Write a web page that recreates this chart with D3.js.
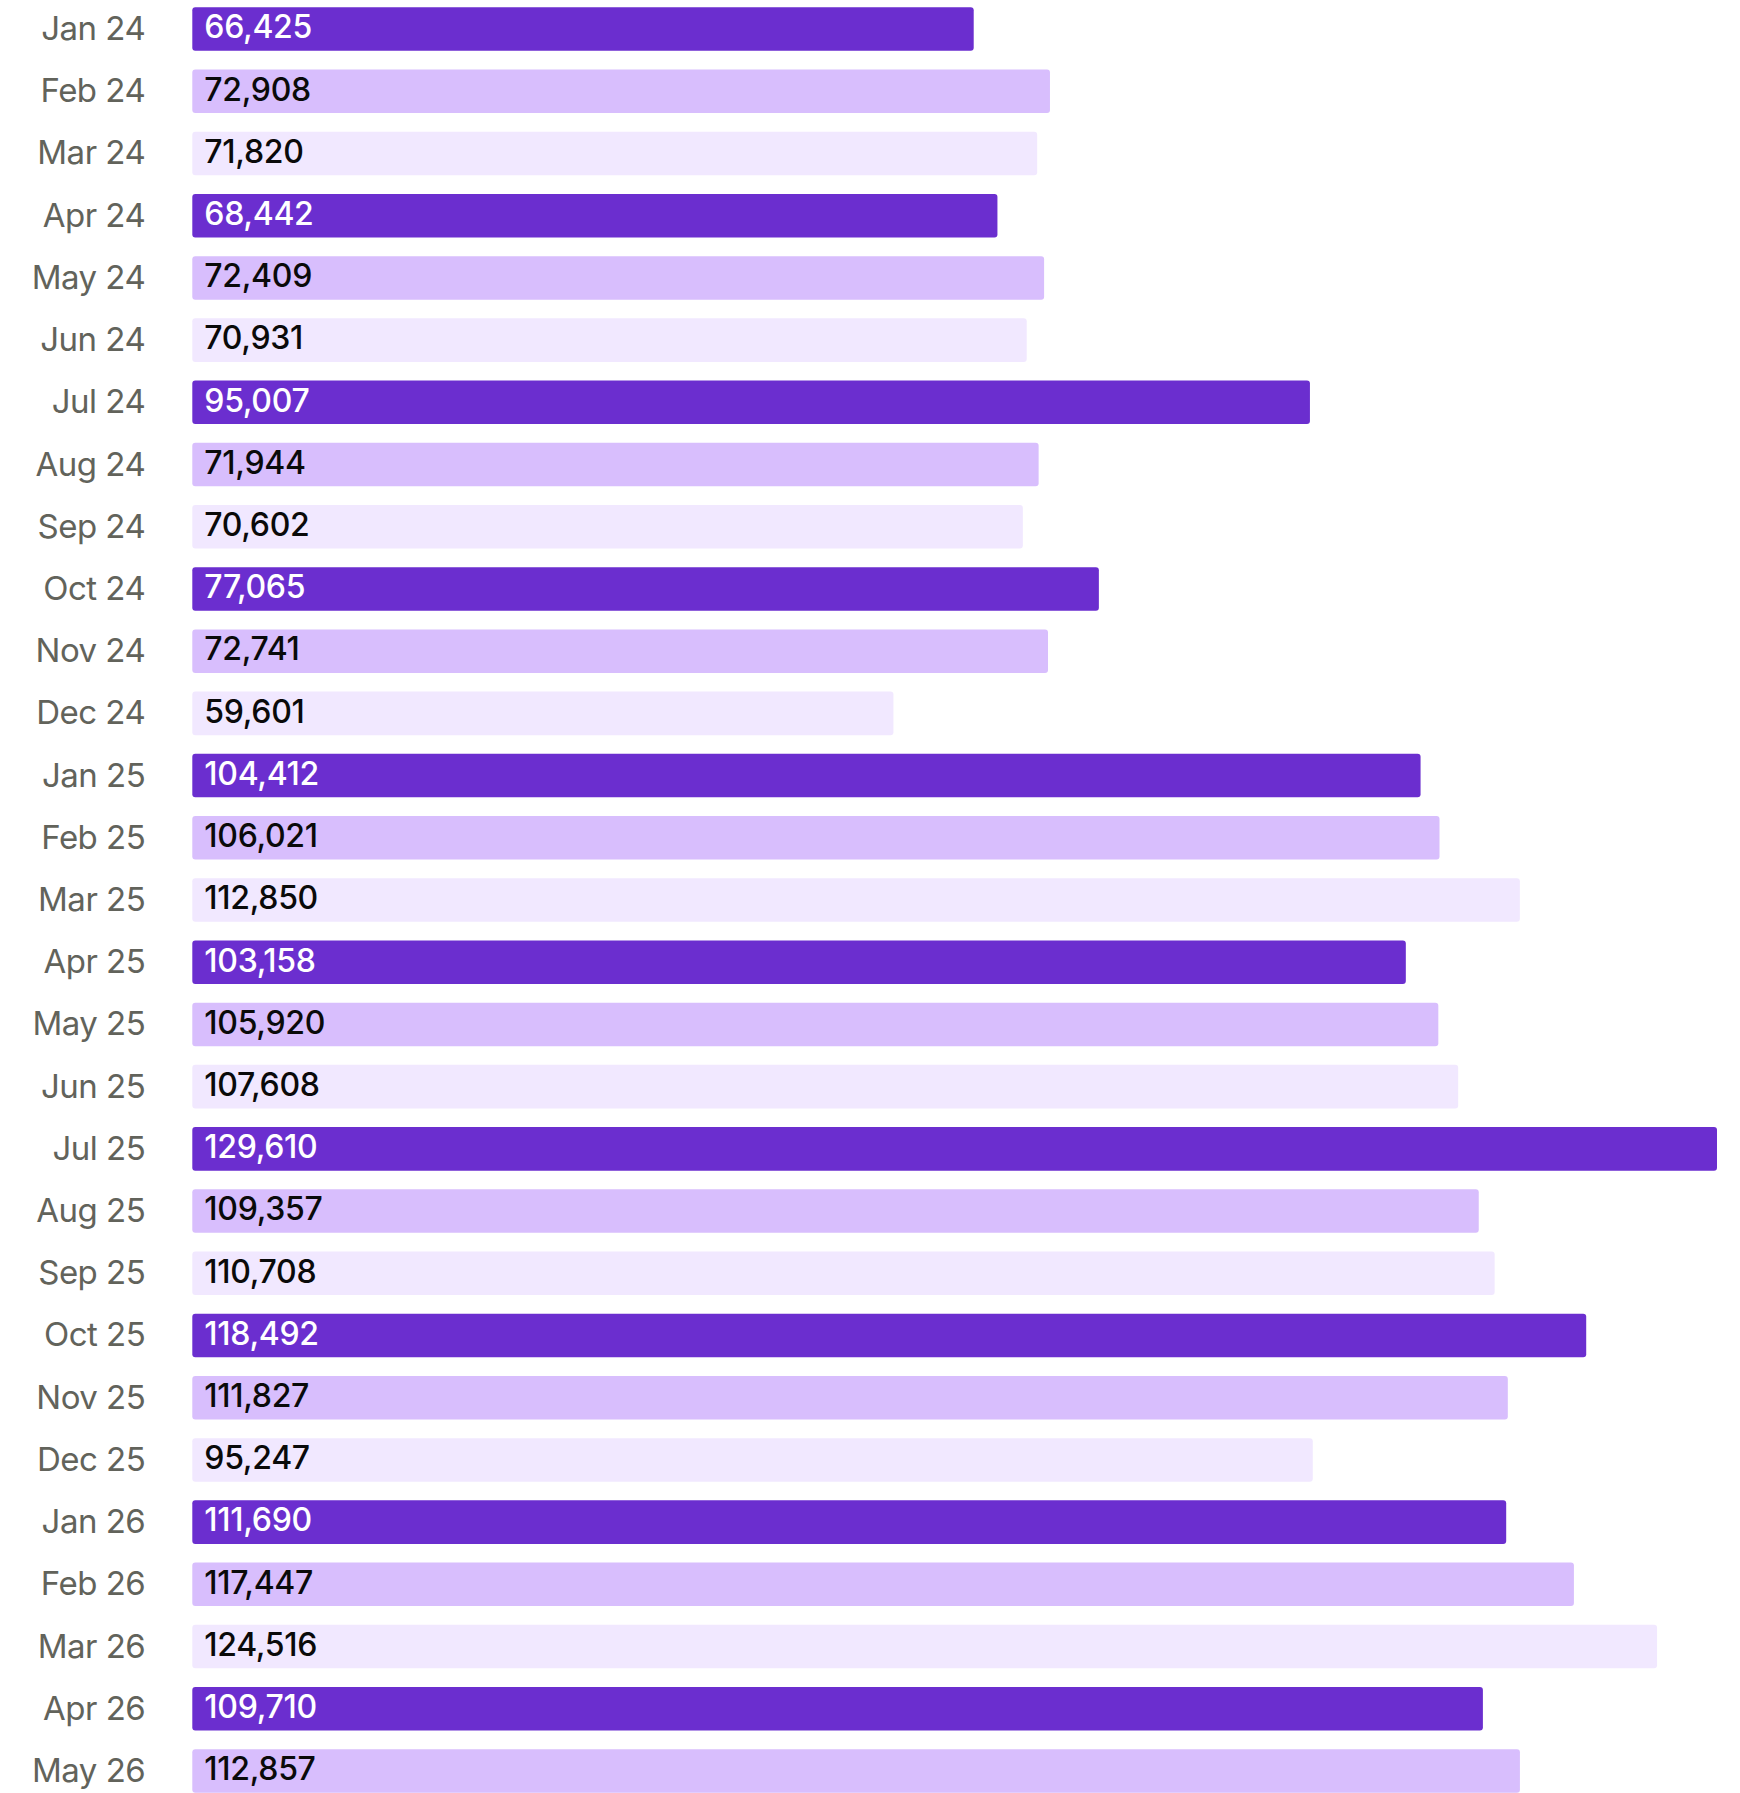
<!DOCTYPE html>
<html><head><meta charset="utf-8">
<script src="https://cdn.jsdelivr.net/npm/d3@7"></script>
<style>
html,body{margin:0;padding:0;background:#fff;overflow:hidden;}
svg{display:block;}
</style></head>
<body>
<svg id="chart" width="1740" height="1793"></svg>
<script>
const categories = ["Jan 24","Feb 24","Mar 24","Apr 24","May 24","Jun 24","Jul 24","Aug 24","Sep 24","Oct 24","Nov 24","Dec 24",
"Jan 25","Feb 25","Mar 25","Apr 25","May 25","Jun 25","Jul 25","Aug 25","Sep 25","Oct 25","Nov 25","Dec 25",
"Jan 26","Feb 26","Mar 26","Apr 26","May 26"];
const values = [66425,72908,71820,68442,72409,70931,95007,71944,70602,77065,72741,59601,
104412,106021,112850,103158,105920,107608,129610,109357,110708,118492,111827,95247,
111690,117447,124516,109710,112857];
const palette = ["#6B2ECF","#D8BEFD","#F1E8FF"];
const labelColors = ["#FFFFFF","#0A0A0A","#0A0A0A"];

const svg = d3.select("#chart");
const x = d3.scaleLinear().domain([0, d3.max(values)]).range([192.3, 1717]);
const step = 62.21;
const y = d3.scaleBand().domain(categories)
  .range([7.3 - step*0.15, 7.3 + step*28.85]).paddingInner(0.3).paddingOuter(0.15);

const rows = svg.selectAll("g.row").data(categories).join("g").attr("class","row");

rows.append("rect")
  .attr("x", x(0))
  .attr("y", d => y(d))
  .attr("height", y.bandwidth())
  .attr("width", (d,i) => x(values[i]) - x(0))
  .attr("rx", 3)
  .attr("fill", (d,i) => palette[i % 3]);

rows.append("text")
  .attr("x", 145.3)
  .attr("y", d => y(d) + y.bandwidth()/2 + 11)
  .attr("text-anchor","end")
  .attr("font-family","Inter, 'Noto Sans', sans-serif")
  .attr("font-size", 33)
  .attr("letter-spacing", -0.5)
  .attr("fill","#62635B")
  .text(d => d);

rows.append("text")
  .attr("x", x(0) + 12)
  .attr("y", d => y(d) + y.bandwidth()/2 + 9.3)
  .attr("font-family","Inter, 'Noto Sans', sans-serif")
  .attr("font-size", 32)
  .attr("font-weight", 500)
  .attr("letter-spacing", -0.3)
  .attr("fill", (d,i) => labelColors[i % 3])
  .text((d,i) => d3.format(",")(values[i]));
</script>
</body></html>
